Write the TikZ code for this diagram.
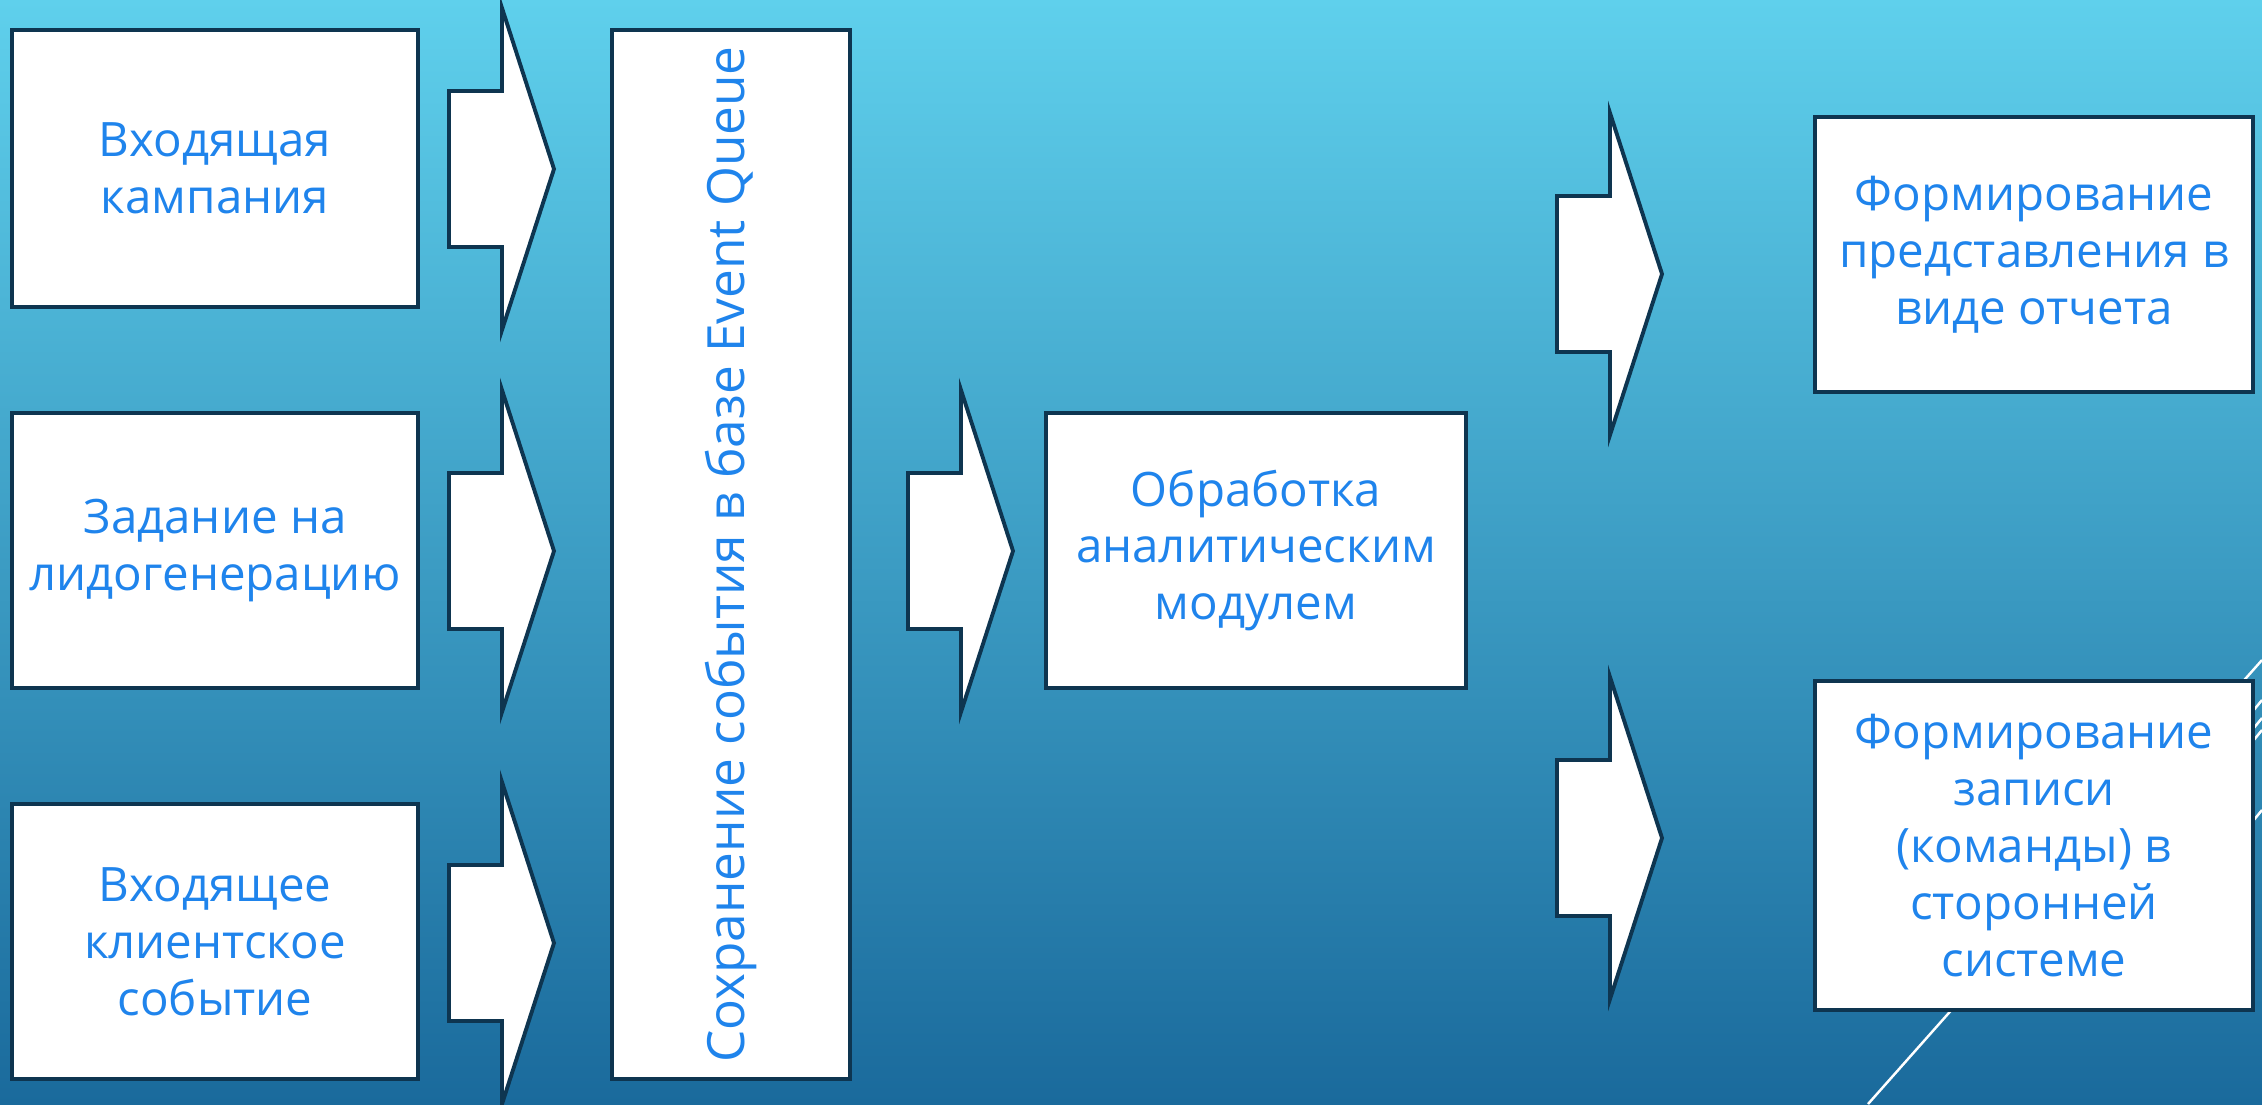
\documentclass[tikz,border=0pt]{standalone}
\usepackage{fontspec}
\setmainfont{Open Sans}
\usetikzlibrary{calc}
\definecolor{FlowInk}{HTML}{0E3550}
\definecolor{FlowText}{HTML}{1F84EC}
\definecolor{FlowTop}{HTML}{5FD0EC}
\definecolor{FlowBottom}{HTML}{1A6A9C}
\tikzset{
  every node/.style={text=FlowText},
  stage/.style={draw=FlowInk, line width=1.2pt, fill=white, align=center, font=\fontsize{13.5}{16.2}\selectfont, inner sep=0pt},
  pusher/.style={draw=FlowInk, line width=1.1pt, fill=white, line join=miter},
  streak/.style={draw=white, line width=0.7pt},
}
% block arrow, tip at (#1,#2)
\newcommand{\fatarrow}[2]{%
  \draw[pusher] (#1-105,#2-78) -- (#1-52,#2-78) -- (#1-52,#2-161) -- (#1,#2)
    -- (#1-52,#2+161) -- (#1-52,#2+78) -- (#1-105,#2+78) -- cycle;}

\begin{document}
\begin{tikzpicture}[x=0.1mm,y=-0.1mm]
  \shade[top color=FlowTop, bottom color=FlowBottom] (0,0) rectangle (2262,1104);
  \useasboundingbox (0,0) rectangle (2262,1104);
  % theme streaks, bottom right
  \draw[streak] (1868,1104) -- (2262,660);
  \draw[streak] (2180,800) -- (2262,700);
  \draw[streak] (2180,818) -- (2262,718);
  \draw[streak] (2180,830) -- (2262,730);
  \draw[streak] (2180,910) -- (2262,810);
  % sources
  \node[stage, minimum width=4.06cm, minimum height=2.77cm] (incoming) at (215,168.5) {Входящая\\кампания};
  \node[stage, minimum width=4.06cm, minimum height=2.75cm] (leadgen) at (215,550.5) {Задание на\\лидогенерацию};
  \node[stage, minimum width=4.06cm, minimum height=2.75cm] (clientevent) at (215,941.5) {Входящее\\клиентское\\событие};
  \fatarrow{554}{169}
  \fatarrow{554}{551}
  \fatarrow{554}{943}
  % queue
  \node[stage, font=\fontsize{14.6}{17}\selectfont, rotate=90, minimum width=10.49cm, minimum height=2.38cm] (queue) at (731,554.5) {Сохранение события в базе Event Queue};
  \fatarrow{1013}{551}
  \node[stage, minimum width=4.20cm, minimum height=2.75cm] (analytics) at (1256,550.5) {Обработка\\аналитическим\\модулем};
  \fatarrow{1662}{274}
  \fatarrow{1662}{838}
  % outputs
  \node[stage, minimum width=4.38cm, minimum height=2.75cm] (report) at (2034,254.5) {Формирование\\представления в\\виде отчета};
  \node[stage, minimum width=4.38cm, minimum height=3.29cm] (command) at (2034,845.5) {Формирование\\записи\\(команды) в\\сторонней\\системе};
\end{tikzpicture}
\end{document}
